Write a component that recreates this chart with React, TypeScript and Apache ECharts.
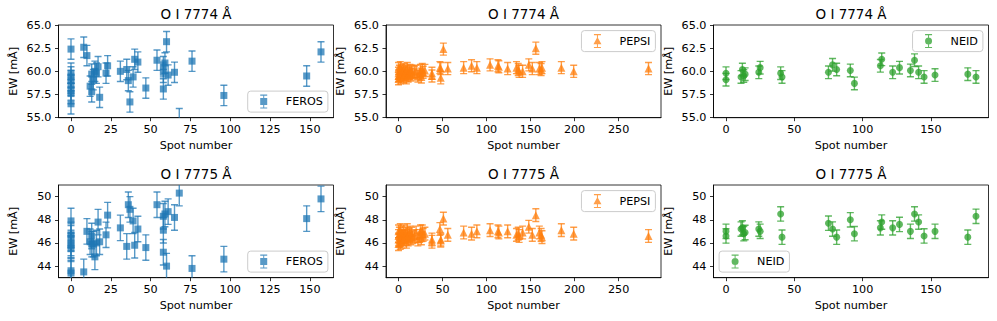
import { useEffect, useRef } from "react";
import * as echarts from "echarts";

// ---------- data ----------
const FEROS_SPOTS = [0, 0, 0, 0, 0, 0, 0, 0, 8, 10, 12, 13, 13, 14, 15, 16, 17, 18, 22, 23, 31, 35, 36, 37, 39, 40, 42, 47, 54, 58, 58, 58, 59, 60, 61, 65, 68, 76, 96, 148, 157];
const FEROS_7774 = [62.4, 59.8, 59.4, 59.0, 58.5, 58.0, 57.6, 56.5, 62.6, 61.7, 58.4, 57.8, 59.7, 59.1, 60.0, 59.8, 60.5, 57.2, 59.8, 60.6, 60.0, 60.2, 59.0, 56.7, 59.4, 61.3, 61.0, 58.2, 61.2, 60.5, 59.9, 58.1, 60.9, 63.2, 59.6, 59.9, 54.9, 61.1, 57.4, 59.5, 62.1];
const FEROS_7775 = [47.9, 46.7, 46.4, 46.0, 45.8, 45.5, 43.6, 43.4, 43.5, 47.0, 46.1, 46.6, 45.9, 45.9, 44.8, 46.0, 47.8, 46.1, 46.7, 48.4, 47.3, 45.7, 49.3, 48.9, 47.9, 45.8, 47.2, 45.6, 49.3, 48.3, 47.1, 45.2, 48.5, 44.0, 48.7, 48.2, 50.3, 43.8, 44.6, 48.1, 49.8];
const FEROS_ERR = [1.1, 1.1];

const PEPSI_SPOTS = [0, 0, 0, 0, 1, 1, 2, 2, 3, 4, 4, 5, 6, 6, 7, 8, 9, 10, 10, 11, 12, 13, 14, 15, 16, 18, 20, 22, 24, 25, 26, 27, 28, 30, 38, 38, 47, 48, 48, 51, 56, 74, 83, 89, 104, 113, 114, 124, 134, 136, 137, 141, 148, 152, 156, 160, 162, 163, 185, 199, 284];
const PEPSI_7774 = [59.5, 60.3, 59.8, 59.2, 60.0, 59.6, 60.4, 59.3, 59.9, 60.1, 59.5, 59.8, 60.2, 59.4, 59.7, 60.0, 59.3, 59.9, 60.3, 59.5, 59.8, 60.1, 59.6, 60.0, 59.7, 59.9, 60.0, 59.5, 59.7, 60.1, 59.4, 60.2, 59.9, 60.1, 59.8, 59.5, 60.4, 60.3, 59.3, 62.4, 60.3, 60.4, 60.6, 60.4, 60.7, 60.6, 60.5, 60.3, 60.4, 60.2, 60.0, 60.0, 60.7, 60.3, 62.5, 60.3, 60.2, 60.4, 60.4, 60.0, 60.3];
const PEPSI_7775 = [46.3, 47.0, 46.6, 45.9, 46.8, 46.2, 47.1, 46.0, 46.5, 46.9, 46.1, 46.6, 47.0, 46.3, 46.5, 46.8, 46.1, 46.6, 47.1, 46.3, 46.7, 46.9, 46.4, 46.8, 46.5, 46.6, 46.9, 46.3, 46.6, 47.0, 46.4, 47.0, 46.7, 46.8, 46.1, 46.3, 47.2, 46.3, 46.2, 48.1, 46.7, 46.9, 46.8, 47.0, 47.1, 47.0, 46.9, 47.0, 46.7, 46.8, 46.6, 46.9, 47.4, 46.7, 48.4, 46.9, 46.7, 46.5, 47.1, 46.8, 46.6];
const PEPSI_ERR = [0.65, 0.55];

const NEID_SPOTS = [0, 0, 11, 12, 13, 14, 24, 25, 40, 41, 75, 78, 81, 91, 94, 113, 114, 122, 127, 135, 138, 141, 145, 153, 177, 183];
const NEID_7774 = [59.8, 59.1, 59.4, 60.2, 59.5, 59.7, 59.9, 60.4, 59.8, 59.4, 59.9, 60.7, 60.2, 60.1, 58.7, 60.6, 61.3, 59.9, 60.4, 60.1, 61.2, 59.9, 59.4, 59.6, 59.7, 59.4];
const NEID_7775 = [47.0, 46.6, 47.2, 47.3, 46.8, 46.9, 47.2, 47.0, 48.5, 46.5, 47.7, 47.2, 46.5, 48.0, 46.8, 47.3, 47.8, 47.3, 47.6, 47.0, 48.5, 47.8, 46.6, 47.0, 46.5, 48.3];
const NEID_ERR = [0.68, 0.62];

const LINES = ["O I 7774 Å", "O I 7775 Å"];
const Y_TICKS = [[55, 57.5, 60, 62.5, 65], [44, 46, 48, 50]];
const Y_RANGE = [[55, 65], [43, 51]];
const X_TICKS = [[0, 25, 50, 75, 100, 125, 150], [0, 50, 100, 150, 200, 250], [0, 50, 100, 150]];
const X_LABEL = "Spot number";
const Y_LABEL = "EW [mÅ]";

// ---------- styling / layout ----------
const FONT = "DejaVu Sans";
const COLORS = ["#1f77b4", "#ff7f0e", "#2ca02c"];
const SYMBOLS = ["rect", "triangle", "circle"];
const SIZES = [7, 8, 7];
const ALPHA = 0.75;
const COL_LEFT = [58.5, 386, 713.5];
const PANEL_W = 275;
const ROW_TOP = [25, 185];
const PANEL_H = 92.7;
const W = 997;
const H = 321;
const TICK_FS = 11.2;
const TITLE_FS = 13.5;

const INSTRUMENTS = [
  { name: "FEROS", spots: FEROS_SPOTS, values: [FEROS_7774, FEROS_7775], err: FEROS_ERR },
  { name: "PEPSI", spots: PEPSI_SPOTS, values: [PEPSI_7774, PEPSI_7775], err: PEPSI_ERR },
  { name: "NEID", spots: NEID_SPOTS, values: [NEID_7774, NEID_7775], err: NEID_ERR },
];
// legend corner per panel [row][col]
const LEGEND_LOC = [
  ["br", "tr", "tr"],
  ["br", "tr", "bl"],
];

const BOUNDS = "M0 7L0 7.01Z M27 7L27 7.01Z ";
const ERRBAR = "M9.5 0h1v14h-1z M6.5 0h7v1.2h-7z M6.5 12.8h7v1.2h-7z ";
const ICONS: Record<string, string> = {
  rect: "path://" + BOUNDS + ERRBAR + "M6.5 3.5h7v7h-7z",
  triangle: "path://" + BOUNDS + ERRBAR + "M10 2.8L14 10.2L6 10.2z",
  circle: "path://" + BOUNDS + ERRBAR + "M13.5 7A3.5 3.5 0 1 1 6.5 7A3.5 3.5 0 1 1 13.5 7z",
};

function buildOption() {
  const grid: any[] = [];
  const xAxis: any[] = [];
  const yAxis: any[] = [];
  const series: any[] = [];
  const title: any[] = [];
  const legend: any[] = [];

  for (let row = 0; row < 2; row++) {
    for (let col = 0; col < 3; col++) {
      const inst = INSTRUMENTS[col];
      const idx = row * 3 + col;
      const left = COL_LEFT[col];
      const top = ROW_TOP[row];
      grid.push({
        left,
        top,
        width: PANEL_W,
        height: PANEL_H,
        show: true,
        borderColor: "#000",
        borderWidth: 0.8,
        backgroundColor: "transparent",
        containLabel: false,
      });
      const xs = inst.spots;
      const xmin = Math.min(...xs);
      const xmax = Math.max(...xs);
      const pad = (xmax - xmin) * 0.05;
      xAxis.push({
        type: "value",
        gridIndex: idx,
        min: xmin - pad,
        max: xmax + pad,
        name: X_LABEL,
        nameLocation: "middle",
        nameGap: 22,
        nameTextStyle: { fontFamily: FONT, fontSize: TICK_FS, color: "#000" },
        axisLine: { show: true, onZero: false, lineStyle: { color: "#000", width: 0.8 } },
        axisTick: { show: true, length: 3.5, lineStyle: { color: "#000", width: 0.8 }, customValues: X_TICKS[col] },
        axisLabel: { fontFamily: FONT, fontSize: TICK_FS, color: "#000", margin: 6, customValues: X_TICKS[col] },
        splitLine: { show: false },
      });
      yAxis.push({
        type: "value",
        gridIndex: idx,
        min: Y_RANGE[row][0],
        max: Y_RANGE[row][1],
        name: Y_LABEL,
        nameLocation: "middle",
        nameGap: 40,
        nameTextStyle: { fontFamily: FONT, fontSize: TICK_FS, color: "#000" },
        axisLine: { show: true, onZero: false, lineStyle: { color: "#000", width: 0.8 } },
        axisTick: { show: true, length: 3.5, lineStyle: { color: "#000", width: 0.8 }, customValues: Y_TICKS[row] },
        axisLabel: {
          fontFamily: FONT,
          fontSize: TICK_FS,
          color: "#000",
          margin: 7,
          customValues: Y_TICKS[row],
          formatter: (v: number) => (row === 0 ? v.toFixed(1) : String(v)),
        },
        splitLine: { show: false },
      });
      title.push({
        text: LINES[row],
        left: left + PANEL_W / 2,
        top: top - 18,
        textAlign: "center",
        padding: 0,
        textStyle: { fontFamily: FONT, fontSize: TITLE_FS, fontWeight: "normal", color: "#000" },
      });

      const vals = inst.values[row];
      const e = inst.err[row];
      const data = xs.map((x, i) => [x, vals[i], e]);
      const color = COLORS[col];
      series.push({
        type: "custom",
        name: inst.name + "-err-" + idx,
        xAxisIndex: idx,
        yAxisIndex: idx,
        clip: true,
        z: 2,
        silent: true,
        encode: { x: 0, y: 1 },
        data,
        renderItem: (_p: any, api: any) => {
          const x = api.value(0);
          const y = api.value(1);
          const er = api.value(2);
          const t = api.coord([x, y + er]);
          const b = api.coord([x, y - er]);
          const c = 3.5;
          const st = { stroke: color, lineWidth: 1.4, opacity: ALPHA };
          return {
            type: "group",
            children: [
              { type: "line", shape: { x1: t[0], y1: t[1], x2: b[0], y2: b[1] }, style: st },
              { type: "line", shape: { x1: t[0] - c, y1: t[1], x2: t[0] + c, y2: t[1] }, style: st },
              { type: "line", shape: { x1: b[0] - c, y1: b[1], x2: b[0] + c, y2: b[1] }, style: st },
            ],
          };
        },
      });
      series.push({
        type: "scatter",
        name: inst.name,
        xAxisIndex: idx,
        yAxisIndex: idx,
        clip: true,
        z: 3,
        symbol: SYMBOLS[col],
        symbolSize: SIZES[col],
        itemStyle: { color, opacity: ALPHA, borderWidth: 0 },
        data: xs.map((x, i) => [x, vals[i]]),
      });

      const loc = LEGEND_LOC[row][col];
      const LH = 21;
      const pad2 = 5.6;
      const lg: any = {
        data: [{ name: inst.name, icon: ICONS[SYMBOLS[col]], itemStyle: { color, opacity: ALPHA, borderWidth: 0 } }],
        orient: "vertical",
        itemWidth: 27,
        itemHeight: 14,
        padding: [3.5, 5, 3.5, 6],
        borderColor: "#cccccc",
        borderWidth: 1,
        borderRadius: 3,
        backgroundColor: "rgba(255,255,255,0.8)",
        selectedMode: false,
        textStyle: { fontFamily: FONT, fontSize: TICK_FS, color: "#000" },
        top: loc[0] === "t" ? top + pad2 : top + PANEL_H - pad2 - LH,
      };
      if (loc[1] === "r") lg.right = W - (left + PANEL_W - pad2);
      else lg.left = left + pad2;
      legend.push(lg);
    }
  }

  return {
    animation: false,
    backgroundColor: "#fff",
    textStyle: { fontFamily: FONT },
    grid,
    xAxis,
    yAxis,
    title,
    legend,
    series,
  };
}

export default function App() {
  const ref = useRef<HTMLDivElement>(null);
  useEffect(() => {
    if (!ref.current) return;
    const chart = echarts.init(ref.current, undefined, { renderer: "svg" });
    chart.setOption(buildOption() as any);
    return () => chart.dispose();
  }, []);
  return <div ref={ref} style={{ position: "absolute", left: 0, top: 0, width: W, height: H }} />;
}
